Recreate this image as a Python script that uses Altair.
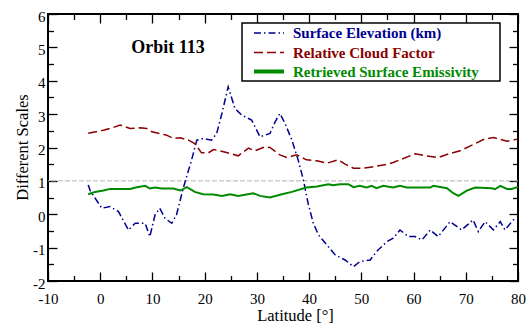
import altair as alt
import pandas as pd

series_names = ["Surface Elevation (km)", "Relative Cloud Factor", "Retrieved Surface Emissivity"]
series_colors = ["#000090", "#8b0000", "#008a00"]

elev_lat = [-2.3, -1.9, 0.3, 1.9, 3.5, 5.4, 6.7, 8.6, 9.5, 10.5, 11.4, 12.4, 13.7, 14.6, 15.9, 17.5, 18.5, 19.7,
            21.3, 22.3, 23.3, 24.5, 25.8, 27.1, 29.0, 30.6, 32.5, 33.5, 34.4, 35.4, 36.7, 37.9, 38.9, 39.8, 40.8,
            41.8, 43.4, 45.0, 46.9, 48.5, 49.7, 51.7, 52.9, 54.9, 56.1, 57.4, 59.0, 60.3, 61.6, 63.2, 64.7, 67.0,
            69.2, 71.4, 72.4, 73.7, 75.3, 76.6, 77.5, 79.1, 79.8]
elev_val = [0.88, 0.70, 0.18, 0.23, 0.08, -0.47, -0.27, -0.27, -0.67, -0.02, 0.18, -0.12, -0.27, -0.02, 0.78, 1.63,
            2.22, 2.27, 2.22, 2.42, 3.02, 3.82, 3.17, 2.97, 2.82, 2.32, 2.42, 2.77, 3.02, 2.72, 2.22, 1.63, 1.03,
            0.33, -0.27, -0.62, -0.92, -1.22, -1.37, -1.57, -1.42, -1.37, -1.12, -0.82, -0.72, -0.47, -0.67, -0.67,
            -0.77, -0.47, -0.67, -0.22, -0.47, -0.17, -0.52, -0.22, -0.47, -0.22, -0.47, -0.17, -0.12]

cloud_lat = [-2.3, 0.6, 2.5, 3.8, 5.7, 7.6, 8.9, 9.9, 11.1, 12.7, 14.0, 15.3, 16.9, 18.1, 19.4, 20.7, 21.7, 22.9,
             24.2, 26.4, 28.4, 29.6, 31.6, 32.5, 34.4, 35.7, 37.6, 39.5, 41.5, 43.4, 45.6, 46.9, 48.5, 50.4, 51.7,
             54.5, 56.1, 57.7, 60.3, 62.5, 64.7, 66.7, 68.9, 70.8, 73.4, 75.3, 77.9, 79.8]
cloud_val = [2.43, 2.52, 2.60, 2.67, 2.57, 2.59, 2.57, 2.47, 2.43, 2.37, 2.27, 2.29, 2.22, 2.12, 1.84, 1.84, 1.94,
             1.90, 1.85, 1.75, 1.98, 1.90, 2.02, 2.00, 1.78, 1.70, 1.78, 1.63, 1.60, 1.53, 1.63, 1.50, 1.38, 1.38,
             1.41, 1.48, 1.55, 1.65, 1.81, 1.75, 1.70, 1.81, 1.90, 2.04, 2.24, 2.30, 2.19, 2.25]

emis_lat = [-2.3, -1.0, 0.6, 1.9, 5.7, 7.0, 8.6, 9.5, 10.5, 11.8, 14.0, 15.3, 16.6, 18.1, 19.7, 21.7, 23.3, 24.9,
            26.4, 29.3, 30.6, 32.5, 34.8, 36.7, 39.5, 41.5, 43.7, 44.6, 45.9, 47.5, 48.5, 49.7, 51.0, 52.0, 52.9,
            54.2, 56.1, 57.4, 58.7, 63.2, 63.8, 66.4, 67.6, 68.6, 70.2, 71.8, 75.0, 75.6, 76.6, 77.9, 78.8, 80.0]
emis_val = [0.60, 0.67, 0.71, 0.76, 0.76, 0.81, 0.85, 0.77, 0.80, 0.77, 0.77, 0.71, 0.81, 0.67, 0.60, 0.59, 0.55,
            0.60, 0.55, 0.63, 0.55, 0.50, 0.60, 0.67, 0.80, 0.83, 0.90, 0.87, 0.90, 0.90, 0.81, 0.85, 0.80, 0.85,
            0.78, 0.85, 0.80, 0.85, 0.80, 0.80, 0.85, 0.78, 0.63, 0.55, 0.71, 0.80, 0.78, 0.75, 0.85, 0.76, 0.76,
            0.82]

x_labels = list(range(-10, 81, 10))
y_labels = list(range(-2, 7))
x_minor = list(range(-10, 81, 5))
y_minor = [v / 2 for v in range(-4, 13)]
ref_value = [1]
title_text = "Orbit 113"
x_title = "Latitude [°]"
y_title = "Different Scales"

FONT = "Liberation Serif"
W, H = 470, 267

xs = alt.Scale(domain=[-10, 80], nice=False, zero=False)
ys = alt.Scale(domain=[-2, 6], nice=False, zero=False)

elev_df = pd.DataFrame({"lat": elev_lat, "val": elev_val})
cloud_df = pd.DataFrame({"lat": cloud_lat, "val": cloud_val})
emis_df = pd.DataFrame({"lat": emis_lat, "val": emis_val})

main_x_axis = alt.Axis(orient="bottom", values=x_labels, ticks=False, domain=False, grid=False,
                       labelExpr="'' + datum.value",
                       labelFont=FONT, labelFontSize=15, labelColor="black", labelPadding=10,
                       labelFlush=False, labelOverlap=False,
                       title=x_title, titleFont=FONT, titleFontSize=16.5, titleFontWeight="normal",
                       titleColor="black", titleX=247, titleY=39, titleBaseline="alphabetic", titleAlign="center")
main_y_axis = alt.Axis(orient="left", values=y_labels, ticks=False, domain=False, grid=False,
                       labelExpr="'' + datum.value",
                       labelFont=FONT, labelFontSize=15, labelColor="black", labelPadding=3, labelOffset=2,
                       labelFlush=False, labelOverlap=False,
                       title=y_title, titleFont=FONT, titleFontSize=16.5, titleFontWeight="normal",
                       titleColor="black", titleX=-21, titleY=133, titleAngle=270,
                       titleBaseline="alphabetic", titleAlign="center")


def tick_axis(orient, offset, values, test):
    return alt.Axis(orient=orient, offset=offset, values=values, labels=False, domain=False, grid=False,
                    title=None, ticks=True, tickColor="black", tickWidth=1.3,
                    tickSize={"condition": {"test": test, "value": 9}, "value": 5.5})


ref = alt.Chart(pd.DataFrame({"v": ref_value})).mark_rule(
    color="#b0b0b0", strokeDash=[5, 2], strokeWidth=1).encode(
    y=alt.Y("v:Q", scale=ys, axis=None))

elev = alt.Chart(elev_df).mark_line(color=series_colors[0], strokeDash=[7, 3, 1.5, 3], strokeWidth=1.5).encode(
    x=alt.X("lat:Q", scale=xs, axis=main_x_axis),
    y=alt.Y("val:Q", scale=ys, axis=main_y_axis))
cloud = alt.Chart(cloud_df).mark_line(color=series_colors[1], strokeDash=[9, 4], strokeWidth=1.5).encode(
    x=alt.X("lat:Q", scale=xs, axis=None),
    y=alt.Y("val:Q", scale=ys, axis=None))
emis = alt.Chart(emis_df).mark_line(color=series_colors[2], strokeWidth=2).encode(
    x=alt.X("lat:Q", scale=xs, axis=None),
    y=alt.Y("val:Q", scale=ys, axis=None))

ticks_a = alt.Chart(emis_df).mark_point(opacity=0).encode(
    x=alt.X("lat:Q", scale=xs, axis=tick_axis("top", -H, x_minor, "datum.value % 10 === 0")),
    y=alt.Y("val:Q", scale=ys, axis=tick_axis("right", -W, y_minor, "datum.value % 1 === 0")))
ticks_b = alt.Chart(emis_df).mark_point(opacity=0).encode(
    x=alt.X("lat:Q", scale=xs, axis=tick_axis("bottom", -H, x_minor, "datum.value % 10 === 0")),
    y=alt.Y("val:Q", scale=ys, axis=tick_axis("left", -W, y_minor, "datum.value % 1 === 0")))

one = pd.DataFrame({"a": [0]})
legend_box = alt.Chart(one).mark_rect(fill="white", stroke="black", strokeWidth=1.5).encode(
    x=alt.value(194), x2=alt.value(452), y=alt.value(9), y2=alt.value(67))

legend_layers = []
dashes = [[7, 3, 1.5, 3], [9, 4], None]
widths = [1.5, 1.5, 4]
rows = [19, 38.5, 57.5]
for name, col, dash, wdt, ry in zip(series_names, series_colors, dashes, widths, rows):
    kw = dict(color=col, strokeWidth=wdt)
    if dash:
        kw["strokeDash"] = dash
    legend_layers.append(alt.Chart(one).mark_rule(**kw).encode(
        x=alt.value(206), x2=alt.value(236), y=alt.value(ry)))
    legend_layers.append(alt.Chart(pd.DataFrame({"t": [name]})).mark_text(
        font=FONT, fontSize=15, fontWeight="bold", color=col, align="left", baseline="middle").encode(
        x=alt.value(245), y=alt.value(ry), text="t:N"))

title = alt.Chart(pd.DataFrame({"t": [title_text]})).mark_text(
    font=FONT, fontSize=18, fontWeight="bold", color="black", align="center", baseline="alphabetic").encode(
    x=alt.value(120), y=alt.value(39), text="t:N")

chart = alt.layer(ref, elev, cloud, emis, ticks_a, ticks_b, legend_box, *legend_layers, title).properties(
    width=W, height=H,
    padding={"left": 48, "top": 14, "right": 8, "bottom": 45},
    autosize=alt.AutoSizeParams(type="none"),
).resolve_axis(x="independent", y="independent").configure_view(stroke="black", strokeWidth=2)

chart.save("out.html", embed_options={"renderer": "svg", "actions": False})
